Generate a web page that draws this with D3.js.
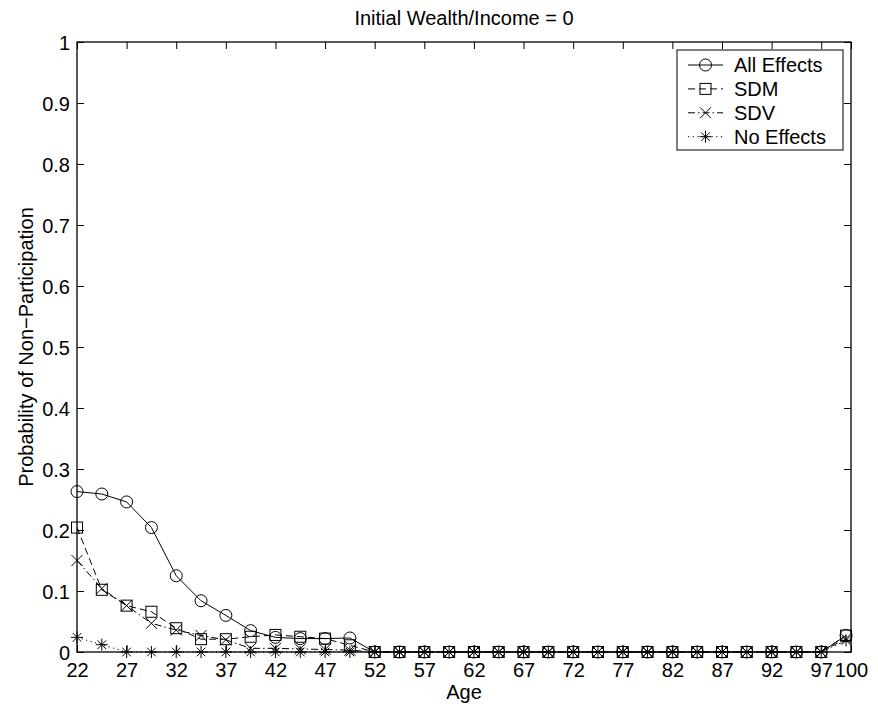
<!DOCTYPE html>
<html>
<head>
<meta charset="utf-8">
<script src="https://cdn.jsdelivr.net/npm/d3@7"></script>
<style>
  body { margin: 0; background: #fff; }
  svg { display: block; }
  text { font-family: "Liberation Sans", Arial, Helvetica, sans-serif; fill: #000; }
</style>
</head>
<body>
<svg id="chart" width="878" height="704"></svg>
<script>
// ---- data ----
const ages = d3.range(0, 32).map(i => 22 + 2.5 * i);
const allEffects = [0.263, 0.259, 0.246, 0.204, 0.125, 0.084, 0.060, 0.035, 0.024, 0.022, 0.022, 0.023,
  0,0,0,0,0,0,0,0,0,0,0,0,0,0,0,0,0,0,0, 0.027];
const sdm = [0.204, 0.102, 0.076, 0.066, 0.039, 0.021, 0.021, 0.025, 0.028, 0.025, 0.022, 0.011,
  0,0,0,0,0,0,0,0,0,0,0,0,0,0,0,0,0,0,0, 0.027];
const sdv = [0.150, 0.104, 0.076, 0.047, 0.036, 0.027, 0.020, 0.006, 0.006, 0.005, 0.004, 0.003,
  0,0,0,0,0,0,0,0,0,0,0,0,0,0,0,0,0,0,0, 0.022];
const noEffects = [0.024, 0.012, 0,0,0,0,0,0,0,0,0,0,
  0,0,0,0,0,0,0,0,0,0,0,0,0,0,0,0,0,0,0, 0.019];
const xTicks = [22, 27, 32, 37, 42, 47, 52, 57, 62, 67, 72, 77, 82, 87, 92, 97, 100];
const yTicks = [0, 0.1, 0.2, 0.3, 0.4, 0.5, 0.6, 0.7, 0.8, 0.9, 1];
const seriesNames = ["All Effects", "SDM", "SDV", "No Effects"];
const titleText = "Initial Wealth/Income = 0";
const xLabel = "Age";
const yLabel = "Probability of Non\u2212Participation";

// ---- layout ----
const L = 77, R = 851, T = 42, B = 652;
const FS = 20;
const svg = d3.select("#chart");
const x = d3.scaleLinear().domain([22, 100]).range([L, R]);
const y = d3.scaleLinear().domain([0, 1]).range([B, T]);

const series = [
  { name: seriesNames[0], values: allEffects, dash: null, marker: "circle" },
  { name: seriesNames[1], values: sdm, dash: "7,4", marker: "square" },
  { name: seriesNames[2], values: sdv, dash: "7,3,1.5,3", marker: "x" },
  { name: seriesNames[3], values: noEffects, dash: "1.2,3.5", marker: "star" }
];

function drawMarker(g, type, cx, cy) {
  const s = g.append("g").attr("transform", `translate(${cx},${cy})`)
    .attr("fill", "none").attr("stroke", "#000").attr("stroke-width", 1);
  if (type === "circle") {
    s.append("circle").attr("r", 6);
  } else if (type === "square") {
    s.append("rect").attr("x", -5.5).attr("y", -5.5).attr("width", 11).attr("height", 11);
  } else if (type === "x") {
    const a = 5.5;
    s.append("path").attr("d", `M${-a},${-a}L${a},${a}M${-a},${a}L${a},${-a}`);
  } else if (type === "star") {
    const a = 6, d = 4.3;
    s.append("path").attr("d", `M${-a},0L${a},0M0,${-a}L0,${a}M${-d},${-d}L${d},${d}M${-d},${d}L${d},${-d}`);
  }
}

// ---- axes box ----
svg.append("rect").attr("x", L).attr("y", T).attr("width", R - L).attr("height", B - T)
  .attr("fill", "#fff").attr("stroke", "#000").attr("stroke-width", 1.3);

const axB = svg.append("g").attr("transform", `translate(0,${B})`)
  .call(d3.axisBottom(x).tickValues(xTicks).tickSizeInner(-7).tickSizeOuter(0).tickPadding(14).tickFormat(d3.format("d")));
const axT = svg.append("g").attr("transform", `translate(0,${T})`)
  .call(d3.axisTop(x).tickValues(xTicks).tickSizeInner(-7).tickSizeOuter(0).tickFormat(""));
const axL = svg.append("g").attr("transform", `translate(${L},0)`)
  .call(d3.axisLeft(y).tickValues(yTicks).tickSizeInner(-7).tickSizeOuter(0).tickPadding(14).tickFormat(d => d === 0 ? "0" : d === 1 ? "1" : d3.format(".1f")(d)));
const axR = svg.append("g").attr("transform", `translate(${R},0)`)
  .call(d3.axisRight(y).tickValues(yTicks).tickSizeInner(-7).tickSizeOuter(0).tickFormat(""));
[axB, axT, axL, axR].forEach(a => {
  a.select(".domain").remove();
  a.selectAll(".tick line").attr("stroke", "#000").attr("stroke-width", 1);
  a.selectAll("text").attr("font-size", FS).attr("font-family", '"Liberation Sans", Arial, sans-serif').attr("fill", "#000");
});
axB.selectAll(".tick text").attr("dy", null).attr("y", 25);
axL.selectAll(".tick text").attr("x", -7).attr("dy", "0.35em");

// ---- series ----
const plot = svg.append("g");
const line = d3.line().x((d, i) => x(ages[i])).y(d => y(d));
series.forEach(s => {
  plot.append("path").datum(s.values).attr("d", line)
    .attr("fill", "none").attr("stroke", "#000").attr("stroke-width", 1)
    .attr("stroke-dasharray", s.dash);
});
series.forEach(s => {
  s.values.forEach((v, i) => drawMarker(plot, s.marker, x(ages[i]), y(v)));
});

// ---- texts ----
svg.append("text").attr("x", (L + R) / 2).attr("y", 25).attr("text-anchor", "middle")
  .attr("font-size", FS).text(titleText);
svg.append("text").attr("x", (L + R) / 2).attr("y", 699).attr("text-anchor", "middle")
  .attr("font-size", FS).text(xLabel);
svg.append("text").attr("transform", `translate(33,${(T + B) / 2}) rotate(-90)`).attr("text-anchor", "middle")
  .attr("font-size", FS).text(yLabel);

// ---- legend ----
const lg = svg.append("g");
lg.append("rect").attr("x", 677).attr("y", 50).attr("width", 166).attr("height", 100)
  .attr("fill", "#fff").attr("stroke", "#000").attr("stroke-width", 1);
series.forEach((s, i) => {
  const cy = 65 + i * 23.9;
  lg.append("line").attr("x1", 688).attr("x2", 723).attr("y1", cy).attr("y2", cy)
    .attr("stroke", "#000").attr("stroke-width", 1).attr("stroke-dasharray", s.dash);
  drawMarker(lg, s.marker, 705.5, cy);
  lg.append("text").attr("x", 734).attr("y", cy + 7).attr("font-size", FS).text(s.name);
});
</script>
</body>
</html>
